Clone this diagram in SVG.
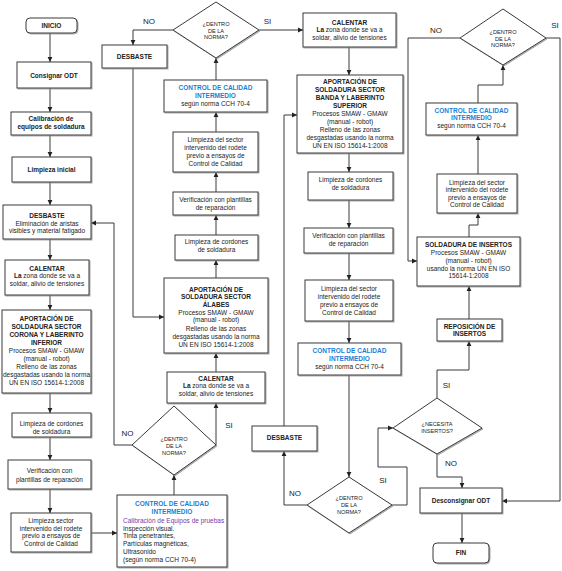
<svg xmlns="http://www.w3.org/2000/svg" width="562" height="571" viewBox="0 0 562 571">
<style>
.b{fill:#fff;stroke:#3a3a3a;stroke-width:1;filter:url(#sh)}
text{font-family:"Liberation Sans",Arial,sans-serif;font-size:6.5px;fill:#222;text-anchor:middle}
.tb{font-weight:bold}
.bl{fill:#1a7fd6;font-weight:bold}
.pu{fill:#7b3aa8}
.l{text-anchor:start}
.d{font-size:5.6px}
.lb{font-size:8px}
.c{fill:none;stroke:#3a3a3a;stroke-width:1;marker-end:url(#a)}
</style>
<defs>
<marker id="a" markerWidth="6" markerHeight="6" refX="5" refY="3" orient="auto" markerUnits="userSpaceOnUse"><path d="M0,0.6 L5,3 L0,5.4 z" fill="#222"/></marker>
<filter id="sh" x="-10%" y="-10%" width="130%" height="130%"><feDropShadow dx="1" dy="1" stdDeviation="0.4" flood-color="#888" flood-opacity="0.7"/></filter>
</defs>
<rect width="562" height="571" fill="#fff"/>

<g id="connectors">
<path class="c" d="M50,33V62"/>
<path class="c" d="M50,88V112"/>
<path class="c" d="M50,135V157"/>
<path class="c" d="M50,182V205"/>
<path class="c" d="M50,239V260"/>
<path class="c" d="M50,295V310"/>
<path class="c" d="M50,393V413"/>
<path class="c" d="M50,437V460"/>
<path class="c" d="M50,489V513"/>
<path class="c" d="M91,533H117"/>
<path class="c" d="M174,495V475"/>
<path class="c" d="M132,445H114V223H91"/>
<path class="c" d="M216,445V403"/>
<path class="c" d="M216,372V353"/>
<path class="c" d="M216,278V260"/>
<path class="c" d="M216,235V215"/>
<path class="c" d="M216,192V172"/>
<path class="c" d="M216,132V112"/>
<path class="c" d="M216,80V58"/>
<path class="c" d="M173,30H133V45"/>
<path class="c" d="M133,68V317H164"/>
<path class="c" d="M259,30H303"/>
<path class="c" d="M349,47V75"/>
<path class="c" d="M349,153V172"/>
<path class="c" d="M349,200V228"/>
<path class="c" d="M349,253V280"/>
<path class="c" d="M349,321V343"/>
<path class="c" d="M349,375V477"/>
<path class="c" d="M307,505H284V451"/>
<path class="c" d="M284,426V115H297"/>
<path class="c" d="M392,505H407V467H378V428H393"/>
<path class="c" d="M437,398V370H469V341"/>
<path class="c" d="M469,319V286"/>
<path class="c" d="M469,237V225H478V213"/>
<path class="c" d="M478,174V135"/>
<path class="c" d="M478,103V85H503V65"/>
<path class="c" d="M460,38H408V261H417"/>
<path class="c" d="M546,38H560V501H502"/>
<path class="c" d="M437,454V477H462V488"/>
<path class="c" d="M462,513V543"/>
<text class="lb" x="149" y="24">NO</text>
<text class="lb" x="267.5" y="24">SI</text>
<text class="lb" x="127.5" y="436">NO</text>
<text class="lb" x="229" y="428">SI</text>
<text class="lb" x="295" y="496">NO</text>
<text class="lb" x="383" y="483">SI</text>
<text class="lb" x="436" y="33">NO</text>
<text class="lb" x="555" y="28">SI</text>
<text class="lb" x="446.5" y="388">SI</text>
<text class="lb" x="451" y="466">NO</text>
</g>

<g id="inicio"><rect class="b" x="26" y="18" width="51" height="15" rx="4"/><text class="tb" x="51.5" y="28">INICIO</text></g>
<g id="consignar"><rect class="b" x="17" y="62" width="74" height="26"/><text class="tb" x="54" y="77.5">Consignar ODT</text></g>
<g id="calibracion"><rect class="b" x="11" y="112" width="80" height="23"/><text class="tb" x="51" y="120.6">Calibración de</text><text class="tb" x="51" y="129">equipos de soldadura</text></g>
<g id="limpieza-inicial"><rect class="b" x="12" y="157" width="79" height="25"/><text class="tb" x="51.5" y="172">Limpieza inicial</text></g>
<g id="desbaste1"><rect class="b" x="3" y="205" width="88" height="34"/><text class="tb" x="47" y="217.5">DESBASTE</text><text x="47" y="225.5">Eliminación  de aristas</text><text x="47" y="233.3">visibles y material  fatigado</text></g>
<g id="calentar1"><rect class="b" x="5" y="260" width="84" height="35"/><text class="tb" x="47" y="270.6">CALENTAR</text><text x="47" y="278.3"><tspan class="tb">La</tspan> zona donde se va a</text><text x="47" y="286.3">soldar, alivio de tensiones</text></g>
<g id="aportacion1"><rect class="b" x="2" y="310" width="89" height="83"/>
<text class="tb" x="46.5" y="320.5">APORTACIÓN DE</text><text class="tb" x="46.5" y="328.6">SOLDADURA  SECTOR</text><text class="tb" x="46.5" y="336.7">CORONA Y LABERINTO</text><text class="tb" x="46.5" y="344.8">INFERIOR</text><text x="46.5" y="352.9">Procesos  SMAW - GMAW</text><text x="46.5" y="361">(manual - robot)</text><text x="46.5" y="369.1">Relleno de las zonas</text><text x="46.5" y="377.2">desgastadas usando la norma</text><text x="46.5" y="385.3">UN  EN  ISO  15614-1:2008</text></g>
<g id="limpcord1"><rect class="b" x="12" y="413" width="79" height="24"/><text x="51.5" y="425.5">Limpieza de cordones</text><text x="51.5" y="434">de soldadura</text></g>
<g id="verif1"><rect class="b" x="8" y="460" width="83" height="29"/><text x="49.5" y="473.3">Verificación con</text><text x="49.5" y="482.3">plantillas de reparación</text></g>
<g id="limpsec1"><rect class="b" x="11" y="513" width="80" height="39"/><text x="51" y="523">Limpieza  sector</text><text x="51" y="530.6">intervenido del rodete</text><text x="51" y="538.3">previo a ensayos de</text><text x="51" y="546.3">Control de Calidad</text></g>

<g id="dec1"><polygon class="b" points="216,2 259,30 216,58 173,30"/><text class="d" x="216" y="26">¿DENTRO</text><text class="d" x="216" y="32.5">DE LA</text><text class="d" x="216" y="39">NORMA?</text></g>
<g id="desbaste2"><rect class="b" x="102" y="45" width="65" height="23"/><text class="tb" x="134.5" y="58.8">DESBASTE</text></g>
<g id="control2a"><rect class="b" x="164" y="80" width="103" height="32"/><text class="bl" x="215.5" y="90.3">CONTROL  DE  CALIDAD</text><text class="bl" x="215.5" y="98.3">INTERMEDIO</text><text x="215.5" y="106.3">según norma CCH  70-4</text></g>
<g id="limpsec2"><rect class="b" x="173" y="132" width="85" height="40"/><text x="215.5" y="141.6">Limpieza  del sector</text><text x="215.5" y="149.6">intervenido del rodete</text><text x="215.5" y="158">previo a ensayos de</text><text x="215.5" y="165.6">Control de Calidad</text></g>
<g id="verif2"><rect class="b" x="173" y="192" width="85" height="23"/><text x="215.5" y="201.5">Verificación con plantillas</text><text x="215.5" y="210">de reparación</text></g>
<g id="limpcord2"><rect class="b" x="175" y="235" width="83" height="25"/><text x="216.5" y="243.8">Limpieza de cordones</text><text x="216.5" y="251.8">de soldadura</text></g>
<g id="aportacion2"><rect class="b" x="164" y="278" width="104" height="75"/>
<text class="tb" x="216" y="291.6">APORTACIÓN DE</text><text class="tb" x="216" y="299">SOLDADURA  SECTOR</text><text class="tb" x="216" y="306.6">ÁLABES</text><text x="216" y="314.6">Procesos  SMAW - GMAW</text><text x="216" y="322.3">(manual - robot)</text><text x="216" y="330.6">Relleno de las zonas</text><text x="216" y="339">desgastadas usando la norma</text><text x="216" y="346.6">UN  EN  ISO  15614-1:2008</text></g>
<g id="calentar2"><rect class="b" x="167" y="372" width="98" height="31"/><text class="tb" x="216" y="380.6">CALENTAR</text><text x="216" y="388.3"><tspan class="tb">La</tspan> zona donde se va a</text><text x="216" y="396.3">soldar, alivio de tensiones</text></g>
<g id="dec2"><polygon class="b" points="174,406 216,445 174,475 132,445"/><text class="d" x="174" y="441">¿DENTRO</text><text class="d" x="174" y="448">DE LA</text><text class="d" x="174" y="455">NORMA?</text></g>
<g id="control2b"><rect class="b" x="117" y="495" width="110" height="72"/><text class="bl" x="172" y="506.3">CONTROL  DE  CALIDAD</text><text class="bl" x="172" y="514.3">INTERMEDIO</text>
<text class="pu l" x="123" y="523">Calibración de  Equipos  de pruebas</text><text class="l" x="123" y="530.6">Inspección visual.</text><text class="l" x="123" y="538.3">Tinta penetrantes,</text><text class="l" x="123" y="546.3">Partículas magnéticas,</text><text class="l" x="123" y="554">Ultrasonido</text><text class="l" x="123" y="561.6">(según norma CCH  70-4)</text></g>

<g id="calentar3"><rect class="b" x="303" y="13" width="93" height="34"/><text class="tb" x="349.5" y="25.3">CALENTAR</text><text x="349.5" y="32.3"><tspan class="tb">La</tspan> zona donde se va a</text><text x="349.5" y="40.3">soldar, alivio de tensiones</text></g>
<g id="aportacion3"><rect class="b" x="297" y="75" width="106" height="78"/>
<text class="tb" x="350" y="84">APORTACIÓN DE</text><text class="tb" x="350" y="92">SOLDADURA  SECTOR</text><text class="tb" x="350" y="100">BANDA  Y  LABERINTO</text><text class="tb" x="350" y="108">SUPERIOR</text><text x="350" y="116">Procesos  SMAW - GMAW</text><text x="350" y="124">(manual - robot)</text><text x="350" y="132">Relleno de las zonas</text><text x="350" y="140">desgastadas usando la norma</text><text x="350" y="148">UN  EN  ISO  15614-1:2008</text></g>
<g id="limpcord3"><rect class="b" x="308" y="172" width="85" height="28"/><text x="350.5" y="182.3">Limpieza de cordones</text><text x="350.5" y="190.3">de soldadura</text></g>
<g id="verif3"><rect class="b" x="304" y="228" width="89" height="25"/><text x="348.5" y="238.3">Verificación con plantillas</text><text x="348.5" y="246.3">de reparación</text></g>
<g id="limpsec3"><rect class="b" x="305" y="280" width="88" height="41"/><text x="349" y="290.6">Limpieza  del sector</text><text x="349" y="299">intervenido del rodete</text><text x="349" y="306.6">previo a ensayos de</text><text x="349" y="314.6">Control de Calidad</text></g>
<g id="control3"><rect class="b" x="298" y="343" width="103" height="32"/><text class="bl" x="349.5" y="353.3">CONTROL  DE  CALIDAD</text><text class="bl" x="349.5" y="361.3">INTERMEDIO</text><text x="349.5" y="369">según norma CCH  70-4</text></g>
<g id="desbaste3"><rect class="b" x="252" y="426" width="65" height="25"/><text class="tb" x="284.5" y="440">DESBASTE</text></g>
<g id="dec3"><polygon class="b" points="349,477 392,505 349,533 307,505"/><text class="d" x="349" y="500">¿DENTRO</text><text class="d" x="349" y="507">DE LA</text><text class="d" x="349" y="514">NORMA?</text></g>

<g id="dec4"><polygon class="b" points="503,9 546,38 503,65 460,38"/><text class="d" x="503" y="34">¿DENTRO</text><text class="d" x="503" y="40.5">DE LA</text><text class="d" x="503" y="47">NORMA?</text></g>
<g id="control4"><rect class="b" x="426" y="103" width="91" height="32"/><text class="bl" x="471.5" y="113.3">CONTROL  DE  CALIDAD</text><text class="bl" x="471.5" y="120.3">INTERMEDIO</text><text x="471.5" y="128.3">según norma CCH  70-4</text></g>
<g id="limpsec4"><rect class="b" x="437" y="174" width="80" height="39"/><text x="477" y="185">Limpieza  del sector</text><text x="477" y="192.3">intervenido del rodete</text><text x="477" y="199.6">previo a ensayos de</text><text x="477" y="207.3">Control de Calidad</text></g>
<g id="soldadura-insertos"><rect class="b" x="417" y="237" width="103" height="49"/><text class="tb" x="468.5" y="246.6">SOLDADURA  DE  INSERTOS</text><text x="468.5" y="255">Procesos  SMAW - GMAW</text><text x="468.5" y="263">(manual - robot)</text><text x="468.5" y="270.6">usando la norma UN  EN  ISO</text><text x="468.5" y="278.3">15614-1:2008</text></g>
<g id="reposicion"><rect class="b" x="437" y="319" width="65" height="22"/><text class="tb" x="469.5" y="328.6">REPOSICIÓN  DE</text><text class="tb" x="469.5" y="336.4">INSERTOS</text></g>
<g id="necesita"><polygon class="b" points="437,398 482,428 437,454 393,428"/><text class="d" x="437" y="426">¿NECESITA</text><text class="d" x="437" y="433">INSERTOS?</text></g>
<g id="desconsignar"><rect class="b" x="420" y="488" width="82" height="25"/><text class="tb" x="461" y="503.3">Desconsignar ODT</text></g>
<g id="fin"><rect class="b" x="433" y="543" width="56" height="20" rx="4"/><text class="tb" x="461" y="555.3">FIN</text></g>
</svg>
